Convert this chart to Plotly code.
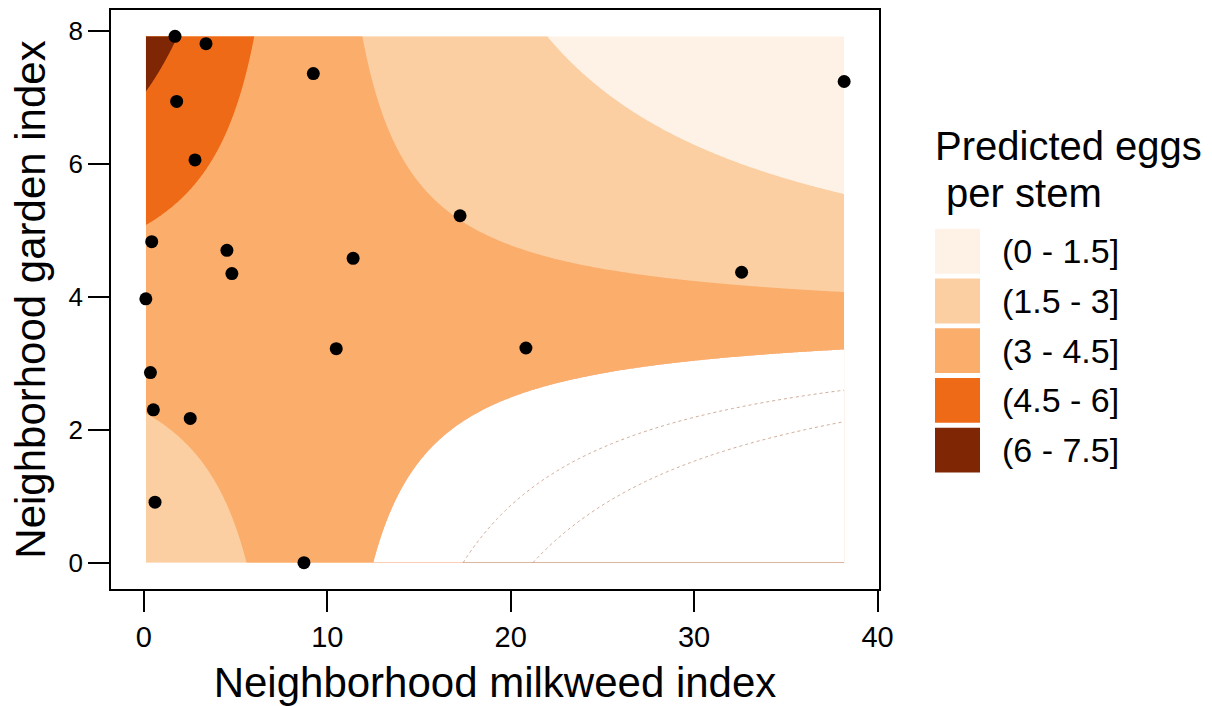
import numpy as np
import plotly.graph_objects as go

# ---- observed sites (points) ----
milkweed = [1.70, 3.39, 9.24, 1.79, 2.79, 38.18, 17.24, 0.43, 4.53, 11.41,
            4.80, 32.59, 0.11, 10.49, 20.83, 0.36, 0.52, 2.53, 0.61, 8.73]
garden = [7.92, 7.81, 7.36, 6.94, 6.06, 7.24, 5.22, 4.83, 4.70, 4.58,
          4.35, 4.37, 3.97, 3.22, 3.23, 2.86, 2.30, 2.17, 0.91, 0.00]

# ---- fitted surface (log link): log(eggs) = b0 + b1*milkweed + b2*garden + b3*milkweed*garden ----
b0 = 0.77
b_milk = 0.0587
b_gard = 0.145
b_int = -0.01610

# ---- legend bins ----
bin_labels = ["(0 - 1.5]", "(1.5 - 3]", "(3 - 4.5]", "(4.5 - 6]", "(6 - 7.5]"]
bin_colors = ["#FEF2E6", "#FBCFA2", "#FBAD6B", "#EF6A17", "#7F2704"]
bin_size = 1.5

x_ticks = [0, 10, 20, 30, 40]
y_ticks = [0, 2, 4, 6, 8]

FONT = "Liberation Sans, Arial, Helvetica, sans-serif"

# prediction grid over the data range
gx = np.linspace(min(milkweed), max(milkweed), 500)
gy = np.linspace(min(garden), max(garden), 500)
X, Y = np.meshgrid(gx, gy)
Z = np.exp(b0 + b_milk * X + b_gard * Y + b_int * X * Y)

# saddle abscissa: lobe to its right (low garden, high milkweed) is left unfilled
x_saddle = -b_gard / b_int
Z_right = np.where(X > x_saddle, Z, 0.0)

fig = go.Figure()

fig.add_trace(go.Contour(
    x=gx, y=gy, z=Z,
    autocontour=False,
    contours=dict(start=bin_size, end=bin_size * 4, size=bin_size,
                  coloring="fill", showlines=False),
    colorscale=[[i / (len(bin_colors) - 1), c] for i, c in enumerate(bin_colors)],
    line=dict(width=0),
    showscale=False, hoverinfo="skip",
))

fig.add_trace(go.Contour(
    x=gx, y=gy, z=Z_right,
    autocontour=False,
    contours=dict(start=bin_size * 3, end=bin_size * 3, size=bin_size,
                  coloring="fill", showlines=False),
    colorscale=[[0, "rgba(255,255,255,0)"], [1, "rgb(255,255,255)"]],
    line=dict(width=0),
    showscale=False, hoverinfo="skip",
))

fig.add_trace(go.Contour(
    x=gx, y=gy, z=Z_right,
    autocontour=False,
    contours=dict(start=bin_size * 4, end=bin_size * 5, size=bin_size,
                  coloring="none", showlines=True),
    line=dict(width=0.7, color="#B98468", dash="dot"),
    showscale=False, hoverinfo="skip",
))

fig.add_trace(go.Scatter(
    x=milkweed, y=garden, mode="markers",
    marker=dict(color="black", size=13),
    showlegend=False, hoverinfo="skip",
))

# ---- layout ----
L, R, T, B = 111, 879, 8, 590
W, H = 1212, 706

def px(xp):
    return (xp - L) / (R - L)

def py(yp):
    return (B - yp) / (B - T)

axis_common = dict(
    showgrid=False, zeroline=False, showline=True, linecolor="black",
    linewidth=1.8, mirror=True, ticks="outside", ticklen=21, tickwidth=2.4,
    tickcolor="black",
)

fig.update_layout(
    width=W, height=H,
    margin=dict(l=L, r=W - R, t=T, b=H - B, pad=0),
    plot_bgcolor="white", paper_bgcolor="white",
    font=dict(family=FONT, color="black"),
    showlegend=False,
    xaxis=dict(range=[-1.79, 40.08], tickvals=x_ticks,
               tickfont=dict(size=29),
               title=dict(text="Neighborhood milkweed index",
                          font=dict(size=42), standoff=16),
               **axis_common),
    yaxis=dict(range=[-0.396, 8.316], tickvals=y_ticks,
               tickfont=dict(size=26),
               title=dict(text="Neighborhood garden index",
                          font=dict(size=42), standoff=10),
               **axis_common),
)

# ---- legend (manual) ----
key_x0, key_x1 = 935, 980
key_top, key_h, key_pitch = 228, 45, 50
shapes = []
annotations = []
for i, (lab, col) in enumerate(zip(bin_labels, bin_colors)):
    y0 = key_top + i * key_pitch
    shapes.append(dict(type="rect", xref="paper", yref="paper",
                       x0=px(key_x0), x1=px(key_x1), y0=py(y0 + key_h), y1=py(y0),
                       fillcolor=col, line=dict(width=0), layer="above"))
    annotations.append(dict(xref="paper", yref="paper", x=px(1000), y=py(y0 + key_h / 2),
                            text=lab, showarrow=False, xanchor="left", yanchor="middle",
                            font=dict(size=34, family=FONT, color="black")))

annotations.append(dict(xref="paper", yref="paper", x=px(933), y=py(145),
                        text="Predicted eggs", showarrow=False, xanchor="left",
                        yanchor="middle", font=dict(size=40, family=FONT, color="black")))
annotations.append(dict(xref="paper", yref="paper", x=px(933), y=py(192),
                        text="\u00a0per stem", showarrow=False, xanchor="left",
                        yanchor="middle", font=dict(size=40, family=FONT, color="black")))

fig.update_layout(shapes=shapes, annotations=annotations)

fig.write_html("out.html")
